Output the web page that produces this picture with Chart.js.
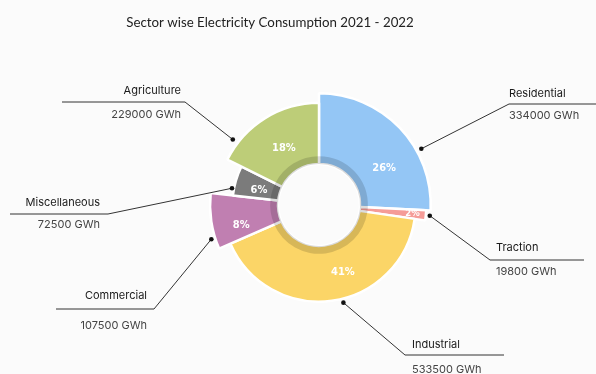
<!DOCTYPE html>
<html lang="en">
<head>
  <meta charset="UTF-8" />
  <title>Sector wise Electricity Consumption 2021 - 2022</title>
  <script src="https://cdn.jsdelivr.net/npm/chart.js"></script>
  <style>
    html, body {
      margin: 0;
      padding: 0;
      background: #fbfbfb;
    }
    .wrap {
      width: 596px;
      height: 374px;
    }
  </style>
</head>
<body>
  <div class="wrap">
    <canvas id="sectorChart" width="596" height="374"></canvas>
  </div>

  <script>
    // data
    const sectors = ['Residential', 'Traction', 'Industrial', 'Commercial', 'Miscellaneous', 'Agriculture'];
    const consumption = [334000, 19800, 533500, 107500, 72500, 229000];
    const unit = 'GWh';
    const chartTitle = 'Sector wise Electricity Consumption 2021 - 2022';

    // styling (not data)
    const colors = ['#94c6f5', '#f59c98', '#fbd567', '#c07fb1', '#7b7b7b', '#bdcd78'];
    const radiusScale = [1.0, 0.96, 0.865, 0.975, 0.775, 0.915];
    const pctAngle = [0.65, 0.5, 0.42, 0.3, 0.4, 0.5];
    const pctRadius = [0.48, 0.8, 0.55, 0.58, 0.46, 0.42];
    const pctSize = [11, 9.5, 11, 11, 11, 11];

    // leader lines: where on the arc the dot sits, then elbow and horizontal line
    const callouts = [
      { f: 0.66, d: 5, ex: 509, ey: 104, lx: 596, tx: 509, align: 'left', ly: 94, vy: 116 },
      { f: 0.5, d: 4, ex: 490, ey: 260, lx: 584, tx: 496, align: 'left', ly: 248, vy: 272 },
      { f: 0.457, d: 4, ex: 405, ey: 355, lx: 504, tx: 412, align: 'left', ly: 345, vy: 370 },
      { f: 0.2, d: 4, ex: 154, ey: 309, lx: 56, tx: 147, align: 'right', ly: 296, vy: 326 },
      { f: 0.23, d: 2, ex: 108, ey: 214, lx: 10, tx: 100, align: 'right', ly: 203, vy: 225 },
      { f: 0.17, d: 6, ex: 185, ey: 102, lx: 62, tx: 181, align: 'right', ly: 91, vy: 115 }
    ];

    const total = consumption.reduce((a, b) => a + b, 0);

    // outer slices start at the hole and each gets its own radius
    const radiusPlugin = {
      id: 'sliceRadius',
      afterDatasetsUpdate(chart) {
        const hole = chart.getDatasetMeta(1).data[0].innerRadius;
        const meta = chart.getDatasetMeta(0);
        meta.data.forEach((arc, i) => {
          arc.innerRadius = hole;
          arc.outerRadius = arc.outerRadius * radiusScale[i];
        });
      }
    };

    const labelPlugin = {
      id: 'calloutLabels',
      afterDraw(chart) {
        const c = chart.ctx;
        const meta = chart.getDatasetMeta(0);
        const inner = chart.getDatasetMeta(1).data[0].innerRadius;
        c.save();

        c.fillStyle = '#222222';
        c.font = '13.3px Lato, sans-serif';
        c.textAlign = 'center';
        c.textBaseline = 'middle';
        c.fillText(chartTitle, 270, 23);

        meta.data.forEach((arc, i) => {
          const span = arc.endAngle - arc.startAngle;

          // percentage inside the slice
          const a = arc.startAngle + span * pctAngle[i];
          const r = inner + (arc.outerRadius - inner) * pctRadius[i];
          c.fillStyle = '#ffffff';
          c.font = 'bold ' + pctSize[i] + 'px "Liberation Sans Narrow", "DejaVu Sans Condensed", sans-serif';
          c.textAlign = 'center';
          c.textBaseline = 'middle';
          c.fillText(Math.round(consumption[i] / total * 100) + '%', arc.x + Math.cos(a) * r, arc.y + Math.sin(a) * r);

          // leader line
          const co = callouts[i];
          const da = arc.startAngle + span * co.f;
          const dr = arc.outerRadius + co.d;
          const dx = arc.x + Math.cos(da) * dr;
          const dy = arc.y + Math.sin(da) * dr;
          c.strokeStyle = '#333333';
          c.lineWidth = 1;
          c.beginPath();
          c.moveTo(dx, dy);
          c.lineTo(co.ex, co.ey);
          c.lineTo(co.lx, co.ey);
          c.stroke();
          c.fillStyle = '#111111';
          c.beginPath();
          c.arc(dx, dy, 2.3, 0, Math.PI * 2);
          c.fill();

          c.textAlign = co.align;
          c.fillStyle = '#1a1a1a';
          c.font = '11px Inter, sans-serif';
          c.fillText(sectors[i], co.tx, co.ly);
          c.fillStyle = '#444444';
          c.fillText(consumption[i] + ' ' + unit, co.tx, co.vy);
        });
        c.restore();
      }
    };

    new Chart(document.getElementById('sectorChart'), {
      type: 'doughnut',
      data: {
        labels: sectors,
        datasets: [
          {
            data: consumption,
            backgroundColor: colors,
            borderColor: '#ffffff',
            borderWidth: 2.5,
            weight: 64,
            order: 1
          },
          {
            // darker band round the hole
            data: consumption,
            backgroundColor: 'rgba(0, 0, 0, 0.14)',
            borderWidth: 0,
            weight: 8,
            order: 0
          }
        ]
      },
      options: {
        responsive: false,
        animation: false,
        events: [],
        cutout: 41,
        layout: {
          padding: { left: 42, right: 0, top: 92, bottom: 56 }
        },
        plugins: {
          legend: { display: false },
          tooltip: { enabled: false },
          title: { display: false }
        }
      },
      plugins: [radiusPlugin, labelPlugin]
    });
  </script>
</body>
</html>
